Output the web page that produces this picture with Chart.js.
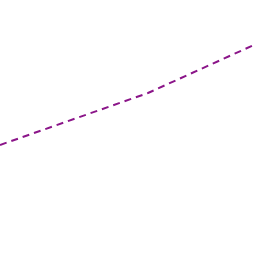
<!DOCTYPE html>
<html>
<head>
<meta charset="utf-8">
<script src="https://cdn.jsdelivr.net/npm/chart.js@4"></script>
<style>
  html, body { margin: 0; padding: 0; background: #fff; }
  #wrap { width: 256px; height: 256px; }
</style>
</head>
<body>
<div id="wrap"><canvas id="Chart" width="256" height="256"></canvas></div>
<script>
const xValues = [0, 148, 256];
const yValues = [111, 163, 212];

function crearChart() {
  const ctx = document.getElementById('Chart');
  new Chart(ctx, {
    type: 'line',
    data: {
      datasets: [{
        data: xValues.map((x, i) => ({ x: x, y: yValues[i] })),
        borderColor: '#8b1589',
        borderWidth: 2,
        borderDash: [7, 5],
        pointRadius: 0,
        fill: false,
        tension: 0
      }]
    },
    options: {
      responsive: false,
      animation: false,
      layout: { padding: 0 },
      scales: {
        x: { type: 'linear', min: 0, max: 256, display: false },
        y: { min: 0, max: 256, display: false }
      },
      plugins: {
        legend: { display: false },
        tooltip: { enabled: false }
      }
    }
  });
}
crearChart();
</script>
</body>
</html>
